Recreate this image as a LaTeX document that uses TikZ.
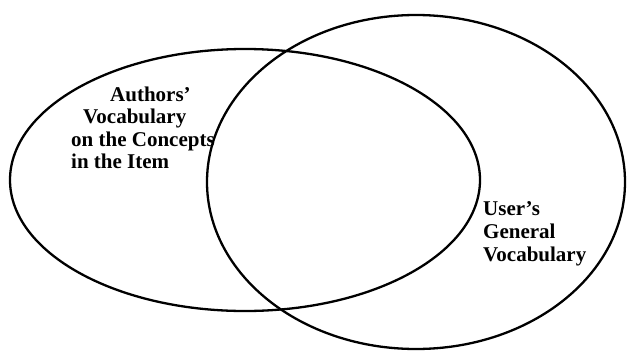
\documentclass[tikz,border=0pt]{standalone}
\usepackage{fontspec}
\setmainfont{Liberation Serif}
\begin{document}
\begin{tikzpicture}[x=1pt,y=-1pt,
  setline/.style={line width=2.3pt, draw=black},
  lbl/.style={anchor=base west, inner sep=0pt, font=\fontsize{21}{23}\selectfont\bfseries}]
\useasboundingbox (0,0) rectangle (629,351);
\draw[setline] (245,180) ellipse [x radius=235pt, y radius=131pt];
\draw[setline] (416,182) ellipse [x radius=209pt, y radius=167pt];
\node[lbl] (a1) at (110,101) {Authors’};
\node[lbl] (a2) at (83,123.5) {Vocabulary};
\node[lbl] (a3) at (71,146) {on the Concepts};
\node[lbl] (a4) at (71,168.5) {in the Item};
\node[lbl] (u1) at (483,215) {User’s};
\node[lbl] (u2) at (483,238) {General};
\node[lbl] (u3) at (483,261) {Vocabulary};
\end{tikzpicture}
\end{document}
